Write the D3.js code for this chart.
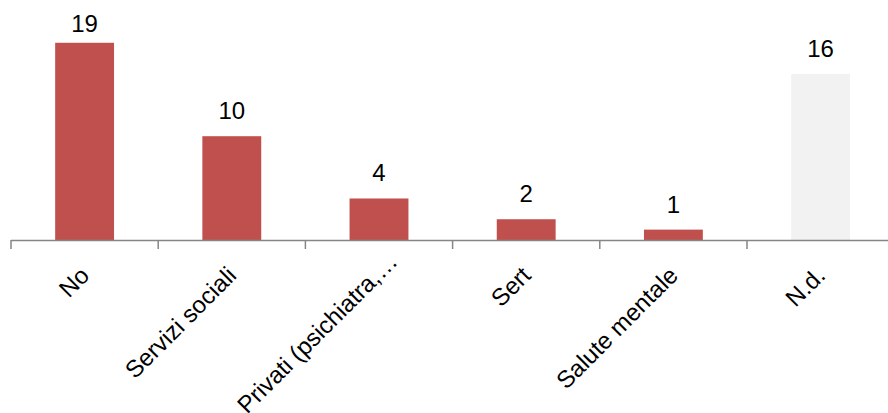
<!DOCTYPE html>
<html>
<head>
<meta charset="utf-8">
<script src="https://cdn.jsdelivr.net/npm/d3@7"></script>
<style>
html,body{margin:0;padding:0;background:#fff;}
svg{display:block;}
</style>
</head>
<body>
<svg id="chart" width="888" height="413"></svg>
<script>
const categories = ["No", "Servizi sociali", "Privati (psichiatra,…", "Sert", "Salute mentale", "N.d."];
const values = [19, 10, 4, 2, 1, 16];
const barColors = ["#C0504D", "#C0504D", "#C0504D", "#C0504D", "#C0504D", "#F2F2F2"];

const svg = d3.select("#chart");
const baseY = 240;

const x = d3.scaleBand()
  .domain(categories)
  .range([11, 11 + 6 * 147.2])
  .paddingInner(0.6)
  .paddingOuter(0.3);

const y = d3.scaleLinear()
  .domain([0, 20])
  .range([baseY, baseY - 20 * 10.38]);

// bars
svg.append("g").selectAll("rect")
  .data(categories)
  .join("rect")
  .attr("x", d => x(d))
  .attr("y", (d, i) => y(values[i]))
  .attr("width", x.bandwidth())
  .attr("height", (d, i) => baseY - y(values[i]))
  .attr("fill", (d, i) => barColors[i]);

// value labels
svg.append("g").selectAll("text")
  .data(categories)
  .join("text")
  .attr("x", d => x(d) + x.bandwidth() / 2)
  .attr("y", (d, i) => Math.max(y(values[i]) - 17, 32))
  .attr("text-anchor", "middle")
  .attr("font-family", "'Liberation Sans', Arial, sans-serif")
  .attr("font-size", 24)
  .attr("fill", "#000")
  .text((d, i) => values[i]);

// axis
const step = x.step();
const start = x.range()[0];
const boundaries = d3.range(categories.length + 1).map(i => start + i * step);
const axis = svg.append("g");
axis.append("line")
  .attr("x1", start).attr("x2", 888)
  .attr("y1", baseY + 0.5).attr("y2", baseY + 0.5)
  .attr("stroke", "#868686").attr("stroke-width", 1.5);
axis.selectAll("line.tick")
  .data(boundaries)
  .join("line")
  .attr("class", "tick")
  .attr("x1", d => d).attr("x2", d => d)
  .attr("y1", baseY).attr("y2", baseY + 9)
  .attr("stroke", "#868686").attr("stroke-width", 1.5);

// category labels (truncated labels sit shifted along their baseline)
axis.selectAll("text")
  .data(categories)
  .join("text")
  .attr("transform", d => {
    const shift = d.endsWith("…") ? 14 : 0;
    return `translate(${x(d) + x.bandwidth() / 2 + 6 + shift},${baseY + 37 - shift}) rotate(-45)`;
  })
  .attr("text-anchor", "end")
  .attr("font-family", "'Liberation Sans', Arial, sans-serif")
  .attr("font-size", 24)
  .attr("fill", "#000")
  .text(d => d);
</script>
</body>
</html>
